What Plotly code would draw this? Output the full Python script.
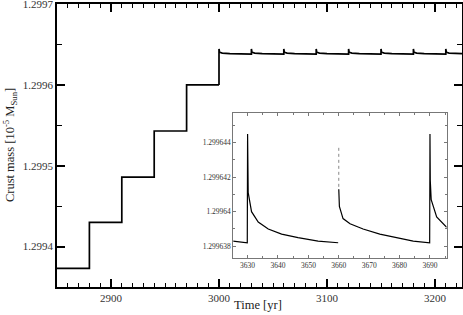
import plotly.graph_objects as go

# ---- main panel data ----
step_time = [2850, 2880, 2910, 2940, 2970, 3000]
step_mass = [1.299373, 1.299430, 1.299486, 1.299543, 1.299600, 1.299600]

saw_time = [3000, 3000, 3000.5, 3003, 3010, 3030,
            3030, 3030.5, 3033, 3040, 3060,
            3060, 3060.5, 3063, 3070, 3090,
            3090, 3090.5, 3093, 3100, 3120,
            3120, 3120.5, 3123, 3130, 3150,
            3150, 3150.5, 3153, 3160, 3180,
            3180, 3180.5, 3183, 3190, 3210,
            3210, 3210.5, 3213, 3220, 3225]
saw_mass = [1.2996000, 1.2996445, 1.2996405, 1.2996393, 1.2996387, 1.2996382,
            1.2996445, 1.2996405, 1.2996393, 1.2996387, 1.2996382,
            1.2996445, 1.2996405, 1.2996393, 1.2996387, 1.2996382,
            1.2996445, 1.2996405, 1.2996393, 1.2996387, 1.2996382,
            1.2996445, 1.2996405, 1.2996393, 1.2996387, 1.2996382,
            1.2996445, 1.2996405, 1.2996393, 1.2996387, 1.2996382,
            1.2996445, 1.2996405, 1.2996393, 1.2996387, 1.2996382,
            1.2996445, 1.2996405, 1.2996393, 1.2996387, 1.2996386]

# ---- inset data ----
inset_time = [3625, 3629.9, 3630.0, 3630.2, 3631.3, 3633.5, 3636.8, 3641.2, 3646.6, 3653.2, 3659.8,
              None,
              3660.0, 3660.2, 3661.4, 3663.7, 3668.0, 3673.5, 3679.0, 3684.5, 3689.9,
              3690.0, 3690.1, 3690.4, 3692.2, 3695.5]
inset_mass = [1.2996383, 1.2996382, 1.2996445, 1.2996411, 1.2996400, 1.2996394, 1.2996390, 1.2996387,
              1.2996385, 1.2996383, 1.2996382,
              None,
              1.2996413, 1.2996403, 1.2996396, 1.2996393, 1.2996390, 1.2996387, 1.2996385,
              1.2996383, 1.2996382,
              1.2996445, 1.2996418, 1.2996407, 1.2996397, 1.2996391]
spike_time = [3660.0, 3660.0]
spike_mass = [1.2996437, 1.2996413]

main_yticks = [1.2994, 1.2995, 1.2996, 1.2997]
main_yticktext = ["1.2994", "1.2995", "1.2996", "1.2997"]
inset_yticks = [1.299638, 1.299640, 1.299642, 1.299644]
inset_yticktext = ["1.299638", "1.29964", "1.299642", "1.299644"]

FONT = "Liberation Serif"

fig = go.Figure()
fig.add_trace(go.Scatter(x=step_time, y=step_mass, mode="lines", line_shape="hv",
                         line=dict(color="black", width=1.7), showlegend=False,
                         xaxis="x", yaxis="y"))
fig.add_trace(go.Scatter(x=saw_time, y=saw_mass, mode="lines",
                         line=dict(color="black", width=1.7), showlegend=False,
                         xaxis="x", yaxis="y"))
fig.add_trace(go.Scatter(x=inset_time, y=inset_mass, mode="lines", connectgaps=False,
                         line=dict(color="black", width=1.2), showlegend=False,
                         xaxis="x2", yaxis="y2"))
fig.add_trace(go.Scatter(x=spike_time, y=spike_mass, mode="lines",
                         line=dict(color="#888888", width=1, dash="dot"), showlegend=False,
                         xaxis="x2", yaxis="y2"))

fig.update_layout(
    width=463, height=315,
    margin=dict(l=57, r=1, t=4, b=28, autoexpand=False),
    paper_bgcolor="white", plot_bgcolor="white",
    font=dict(family=FONT, color="#333333", size=11),
    xaxis=dict(
        domain=[0, 1], range=[2850, 3225], anchor="y", automargin=False,
        tickvals=[2900, 3000, 3100, 3200], ticks="inside", ticklen=8, tickwidth=1.5,
        tickcolor="black", mirror="allticks", showline=True, linecolor="black", linewidth=1.5,
        showgrid=False, zeroline=False, tickfont=dict(size=11), ticklabeloverflow="allow",
        minor=dict(dtick=10, tick0=2850, ticks="inside", ticklen=4, tickwidth=1.2, tickcolor="black"),
    ),
    yaxis=dict(
        domain=[0, 1], range=[1.29935, 1.2997001], anchor="x", automargin=False,
        tickvals=main_yticks, ticktext=main_yticktext, ticks="inside", ticklen=8, tickwidth=1.5,
        tickcolor="black", mirror="allticks", showline=True, linecolor="black", linewidth=1.5,
        showgrid=False, zeroline=False, tickfont=dict(size=11), ticklabeloverflow="allow",
        minor=dict(dtick=0.00005, tick0=1.29935, ticks="inside", ticklen=5, tickwidth=1.2, tickcolor="black"),
    ),
    xaxis2=dict(
        domain=[0.4353, 0.9622], range=[3625.3, 3695.5], anchor="y2", automargin=False,
        tickvals=[3630, 3640, 3650, 3660, 3670, 3680, 3690], ticks="inside", ticklen=3, tickwidth=1,
        tickcolor="#777777", mirror="allticks", showline=True, linecolor="#777777", linewidth=1,
        showgrid=False, zeroline=False, tickfont=dict(size=7.5, color="#333333"),
        minor=dict(dtick=5, tick0=3625, ticks="inside", ticklen=2, tickwidth=1, tickcolor="#777777"),
    ),
    yaxis2=dict(
        domain=[0.1014, 0.6138], range=[1.2996373, 1.2996457], anchor="x2", automargin=False,
        tickvals=inset_yticks, ticktext=inset_yticktext, ticks="inside", ticklen=3, tickwidth=1,
        tickcolor="#777777", mirror="allticks", showline=True, linecolor="#777777", linewidth=1,
        showgrid=False, zeroline=False, tickfont=dict(size=7.5, color="#333333"),
        minor=dict(dtick=0.000001, tick0=1.299638, ticks="inside", ticklen=2, tickwidth=1, tickcolor="#777777"),
    ),
    annotations=[
        dict(text="Time [yr]", xref="paper", yref="paper", x=0.497, y=-0.064,
             xanchor="center", yanchor="middle", showarrow=False, font=dict(size=12.5, color="#222222")),
        dict(text="Crust mass [10<sup>-5</sup> M<sub>Sun</sub>]", xref="paper", yref="paper",
             x=-0.117, y=0.5, textangle=-90, xanchor="center", yanchor="middle",
             showarrow=False, font=dict(size=12.5, color="#222222")),
    ],
)

fig.write_html("out.html", config={"displayModeBar": False},
               post_script="document.body.style.margin='0';document.body.style.padding='0';")
